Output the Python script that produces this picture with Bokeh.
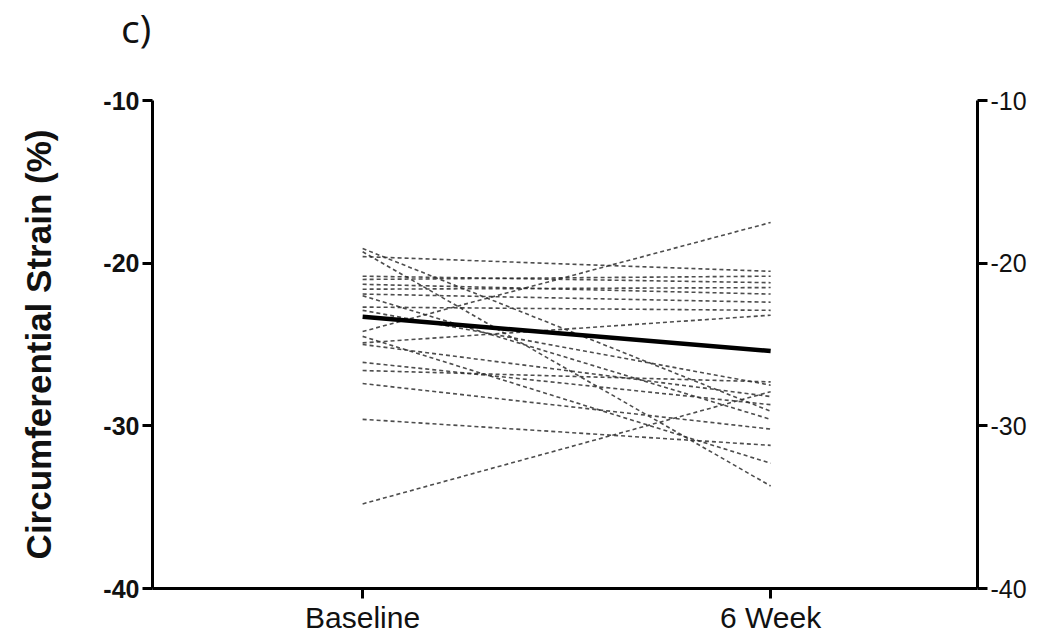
from bokeh.plotting import figure
from bokeh.models import LinearAxis, FixedTicker, Range1d, Div
from bokeh.layouts import column
from bokeh.embed import file_html
from bokeh.resources import INLINE

# ---- data ----
categories = ["Baseline", "6 Week"]
baseline = [-19.1, -19.3, -19.6, -20.8, -21.0, -21.3, -21.6, -21.9, -22.7, -22.9,
            -24.2, -24.5, -24.9, -25.0, -26.1, -26.6, -27.4, -29.6, -34.8, -22.0]
week6 = [-29.1, -33.7, -20.5, -21.2, -20.8, -21.9, -21.5, -22.4, -22.9, -27.5,
         -17.5, -32.3, -23.2, -28.2, -28.7, -27.3, -30.2, -31.2, -27.9, -29.6]
mean_vals = [-23.3, -25.4]
y_ticks = [-10, -20, -30, -40]
y_tick_labels = ["-10", "-20", "-30", "-40"]
y_label = "Circumferential Strain (%)"
panel_label = "c)"

xpos = list(range(len(categories)))

head = Div(text=panel_label, width=1036, height=56, margin=0,
           styles={"font-family": "'Open Sans'", "font-size": "39px", "color": "#111111",
                   "line-height": "1", "padding-left": "121px", "padding-top": "8px",
                   "box-sizing": "border-box"})

p = figure(width=1036, height=580, output_backend="svg", toolbar_location=None,
           x_range=Range1d(-0.515, 1.507), y_range=Range1d(-40, -10),
           min_border_left=152, min_border_right=59, min_border_top=44,
           min_border_bottom=46, margin=0)
p.outline_line_color = None
p.xgrid.visible = False
p.ygrid.visible = False
p.background_fill_color = "white"
p.border_fill_color = "white"

for b, w in zip(baseline, week6):
    p.line(xpos, [b, w], line_color="#2e2e2e", line_width=1.6, line_dash="4 3", line_alpha=0.85)

p.line(xpos, mean_vals, line_color="black", line_width=4.5)

# axes
xa = p.xaxis[0]
xa.ticker = FixedTicker(ticks=xpos)
xa.major_label_overrides = {i: c for i, c in zip(xpos, categories)}
xa.axis_line_width = 3
xa.major_tick_line_width = 3
xa.major_tick_out = 10
xa.major_tick_in = 0
xa.minor_tick_line_color = None
xa.major_label_text_font = "Liberation Sans"
xa.major_label_text_font_size = "30px"
xa.major_label_text_color = "#111111"
xa.major_label_standoff = 2

ya = p.yaxis[0]
ya.ticker = FixedTicker(ticks=y_ticks)
ya.major_label_overrides = {v: s for v, s in zip(y_ticks, y_tick_labels)}
ya.axis_line_width = 3
ya.major_tick_line_width = 3
ya.major_tick_out = 10
ya.major_tick_in = 0
ya.minor_tick_line_color = None
ya.major_label_text_font = "Liberation Sans"
ya.major_label_text_font_style = "bold"
ya.major_label_text_font_size = "25px"
ya.major_label_text_color = "#111111"
ya.major_label_standoff = 3
ya.axis_label = y_label
ya.axis_label_text_font = "Liberation Sans"
ya.axis_label_text_font_style = "bold"
ya.axis_label_text_font_size = "35px"
ya.axis_label_text_color = "#111111"
ya.axis_label_standoff = 42

ra = LinearAxis(ticker=FixedTicker(ticks=y_ticks))
ra.major_label_overrides = {v: s for v, s in zip(y_ticks, y_tick_labels)}
ra.axis_line_width = 3
ra.major_tick_line_width = 3
ra.major_tick_out = 10
ra.major_tick_in = 0
ra.minor_tick_line_color = None
ra.major_label_text_font = "Liberation Sans"
ra.major_label_text_font_size = "25px"
ra.major_label_text_color = "#111111"
ra.major_label_standoff = 3
p.add_layout(ra, "right")

layout = column(head, p, spacing=0)
open("out.html", "w").write(file_html(layout, INLINE))
